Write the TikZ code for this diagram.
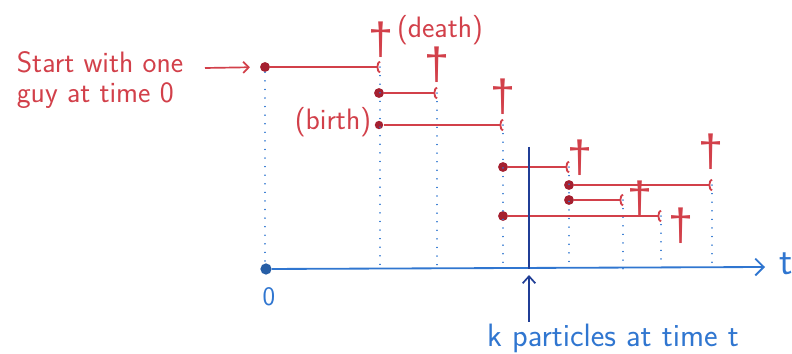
\documentclass[tikz,border=0pt]{standalone}
\usepackage{tikz}
\usepackage{fontspec}
\newfontfamily\crossfont{Liberation Sans}
\usetikzlibrary{arrows.meta}
\definecolor{penred}{RGB}{210,64,74}
\definecolor{dotred}{RGB}{165,32,48}
\definecolor{penblue}{RGB}{48,118,208}
\definecolor{inkblue}{RGB}{32,62,150}

\tikzset{
  life/.style={penred,line width=1.3pt,-{Arc Barb[reversed,length=2.5pt,width=9pt]}},
  birth/.style={circle,fill=dotred,inner sep=0pt,minimum size=7pt},
  guide/.style={penblue,line width=1pt,line cap=round,dash pattern=on 0.1pt off 6pt},
  redtext/.style={penred,font=\sffamily\fontsize{21}{22}\selectfont},
  bluetext/.style={penblue,font=\sffamily\fontsize{23}{24}\selectfont},
  cross/.style={penred,font=\crossfont\fontsize{32}{32}\selectfont,inner sep=0pt}
}

\begin{document}
\begin{tikzpicture}[x=0.025cm,y=-0.025cm]
\useasboundingbox (0,0) rectangle (792,354);

% time axis
\node[circle,fill=penblue!80!black,inner sep=0pt,minimum size=8pt] (o) at (266,269) {};
\coordinate (tend) at (765,267);
\draw[penblue,line width=1.3pt,-{Straight Barb[length=6pt,width=12pt]}] (o) -- (tend);
\node[bluetext,font=\sffamily\fontsize{28}{28}\selectfont] (tlab) at (786,264) {t};
\node[bluetext,font=\sffamily\fontsize{19}{20}\selectfont] (zero) at (269,297) {0};

% births
\node[birth] (b1) at (265,67) {};
\node[birth] (b2) at (379,93) {};
\node[birth,minimum size=6pt] (b3) at (379,125) {};
\node[birth] (b4) at (503,167) {};
\node[birth] (b5) at (569,185) {};
\node[birth] (b6) at (569,200) {};
\node[birth] (b7) at (503,216) {};

% deaths
\coordinate (d1) at (380,67);
\coordinate (d2) at (437,93);
\coordinate (d3) at (503,125);
\coordinate (d4) at (569,167);
\coordinate (d5) at (712,185);
\coordinate (d6) at (623,200);
\coordinate (d7) at (661,216);

% dotted lines down to the axis
\draw[guide] (b1) -- (b1 |- o);
\draw[guide] (d1) -- (d1 |- o);
\draw[guide] (d2) -- (d2 |- o);
\draw[guide] (d3) -- (d3 |- o);
\draw[guide] (d4) -- (d4 |- o);
\draw[guide] (d5) -- (d5 |- o);
\draw[guide] (d6) -- (d6 |- o);
\draw[guide] (d7) -- (d7 |- o);

% lifetimes
\draw[life] (b1) -- (d1);
\draw[life] (b2) -- (d2);
\draw[life] (b3) -- (d3);
\draw[life] (b4) -- (d4);
\draw[life] (b5) -- (d5);
\draw[life] (b6) -- (d6);
\draw[life] (b7) -- (d7);

% crosses
\node[cross] (x1) at (381,40) {†};
\node[cross] (x2) at (437,65) {†};
\node[cross] (x3) at (503,97) {†};
\node[cross] (x4) at (580,158) {†};
\node[cross] (x5) at (711,152) {†};
\node[cross] (x6) at (640,199) {†};
\node[cross] (x7) at (681,226) {†};
\node[redtext] (death) at (440,30) {(death)};
\node[redtext] (birthlab) at (333,122) {(birth)};

% first guy
\node[redtext,align=left] (start) at (100,80) {Start with one\\guy at time 0};
\coordinate (sa) at (205,68);
\draw[penred,line width=1.2pt,-{Straight Barb[length=4pt,width=8pt]},shorten >=7pt] (sa) -- (b1);

% time t
\coordinate (ntop) at (529,147);
\draw[inkblue,line width=1.2pt] (ntop) -- (ntop |- o);
\node[bluetext,anchor=north,inner sep=1pt] (klab) at (613,322) {k particles at time t};
\coordinate (kpt) at (529,275);
\draw[inkblue,line width=1.2pt,-{Straight Barb[length=5pt,width=9pt]}] (klab.north -| kpt) -- (kpt);
\end{tikzpicture}
\end{document}
